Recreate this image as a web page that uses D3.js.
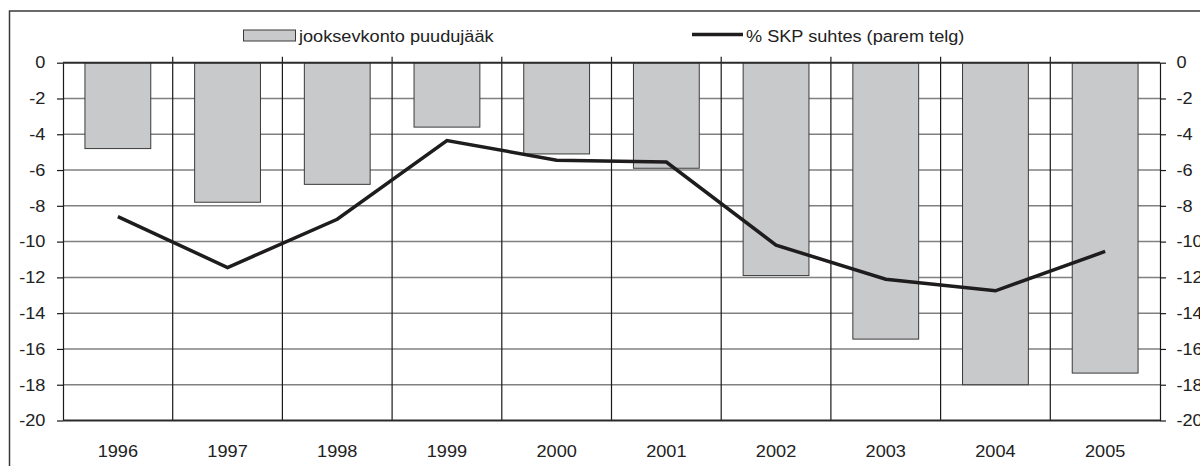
<!DOCTYPE html>
<html>
<head>
<meta charset="utf-8">
<script src="https://cdn.jsdelivr.net/npm/d3@7"></script>
<style>
  body { margin: 0; background: #fff; }
  svg { display: block; font-family: "Liberation Sans", Arial, sans-serif; }
  .lbl { font-size: 16.5px; fill: #222; }
</style>
</head>
<body>
<svg id="chart" width="1200" height="466"></svg>
<script>
const years = ["1996", "1997", "1998", "1999", "2000", "2001", "2002", "2003", "2004", "2005"];
// current account deficit (left axis)
const deficit = [-4.8, -7.8, -6.8, -3.6, -5.1, -5.9, -11.9, -15.45, -18.0, -17.35];
// % of GDP (right axis)
const gdpShare = [-8.6, -11.45, -8.75, -4.35, -5.45, -5.55, -10.2, -12.1, -12.75, -10.55];
const yTicks = [0, -2, -4, -6, -8, -10, -12, -14, -16, -18, -20];
const legendLabels = ["jooksevkonto puudujääk", "% SKP suhtes (parem telg)"];

const rows = years.map((y, i) => ({ year: y, deficit: deficit[i], share: gdpShare[i] }));

const svg = d3.select('#chart');
const plotLeft = 63, plotRight = 1160, plotTop = 62.7, plotBottom = 420.5;
const sx = 'scale(1.1,1)'; // text in the picture is a little wide
const fmt = d => String(d); // plain hyphen minus, like the original

// scales
const x = d3.scaleBand().domain(years).range([plotLeft, plotRight]).padding(0);
const xBar = d3.scaleBand().domain(years).range([plotLeft, plotRight]).paddingInner(0.4).paddingOuter(0.2);
const yL = d3.scaleLinear().domain([-20, 0]).range([plotBottom, plotTop]);
const yR = d3.scaleLinear().domain([-20, 0]).range([plotBottom, plotTop]);

// outer frame
svg.append('rect')
  .attr('x', 9.5).attr('y', 11)
  .attr('width', 1300).attr('height', 600)
  .attr('fill', 'none')
  .attr('stroke', '#3a3a3a')
  .attr('stroke-width', 1.5);

// horizontal gridlines
svg.append('g')
  .selectAll('line')
  .data(yTicks.filter(t => t !== 0 && t !== -20))
  .join('line')
  .attr('x1', plotLeft).attr('x2', plotRight)
  .attr('y1', d => yL(d)).attr('y2', d => yL(d))
  .attr('stroke', '#808080')
  .attr('stroke-width', 1.5);

// category separators (ticks of the category axis go up from 0)
const bounds = years.slice(1).map(y => x(y));
svg.append('g')
  .selectAll('line')
  .data(bounds)
  .join('line')
  .attr('x1', d => d).attr('x2', d => d)
  .attr('y1', plotTop - 6).attr('y2', plotBottom)
  .attr('stroke', '#1a1a1a')
  .attr('stroke-width', 1.2);

// left axis
const gL = svg.append('g')
  .attr('transform', `translate(${plotLeft},0)`)
  .call(d3.axisLeft(yL).tickValues(yTicks).tickFormat(fmt).tickSize(6).tickPadding(10).tickSizeOuter(0));
gL.select('.domain').attr('stroke', '#1a1a1a').attr('stroke-width', 1.2);
gL.selectAll('.tick line').attr('stroke', '#1a1a1a').attr('stroke-width', 1.2);
gL.selectAll('.tick text')
  .attr('class', 'lbl')
  .attr('transform', sx);

// right axis
const gR = svg.append('g')
  .attr('transform', `translate(${plotRight},0)`)
  .call(d3.axisRight(yR).tickValues(yTicks).tickFormat(fmt).tickSize(6).tickPadding(9).tickSizeOuter(0));
gR.select('.domain').attr('stroke', '#1a1a1a').attr('stroke-width', 1.2);
gR.selectAll('.tick line').attr('stroke', '#1a1a1a').attr('stroke-width', 1.2);
gR.selectAll('.tick text')
  .attr('class', 'lbl')
  .attr('transform', sx);
svg.selectAll('g[font-size]').attr('font-size', null).attr('font-family', null);
svg.selectAll('.tick text').attr('fill', '#222');

// bars
svg.append('g')
  .selectAll('rect')
  .data(rows)
  .join('rect')
  .attr('x', d => xBar(d.year))
  .attr('y', yL(0))
  .attr('width', xBar.bandwidth())
  .attr('height', d => yL(d.deficit) - yL(0))
  .attr('fill', '#c8c9cb')
  .attr('stroke', '#3a3a3a')
  .attr('stroke-width', 1);

// top and bottom axis lines
[0, -20].forEach(v => {
  svg.append('line')
    .attr('x1', plotLeft).attr('x2', plotRight)
    .attr('y1', yL(v)).attr('y2', yL(v))
    .attr('stroke', '#2a2a2a')
    .attr('stroke-width', 2);
});

// year labels
svg.append('g')
  .selectAll('text')
  .data(years)
  .join('text')
  .attr('class', 'lbl')
  .attr('text-anchor', 'middle')
  .attr('transform', d => `translate(${x(d) + x.bandwidth() / 2},457) ${sx}`)
  .text(d => d);

// line
const line = d3.line()
  .x(d => x(d.year) + x.bandwidth() / 2)
  .y(d => yR(d.share));

svg.append('path')
  .datum(rows)
  .attr('d', line)
  .attr('fill', 'none')
  .attr('stroke', '#1e1c1d')
  .attr('stroke-width', 3.5)
  .attr('stroke-linejoin', 'miter');

// legend
const lg = svg.append('g');
lg.append('rect')
  .attr('x', 243.5).attr('y', 30)
  .attr('width', 52).attr('height', 11)
  .attr('fill', '#c8c9cb')
  .attr('stroke', '#3a3a3a')
  .attr('stroke-width', 1);
lg.append('text')
  .attr('class', 'lbl')
  .attr('transform', `translate(299,41.5) ${sx}`)
  .text(legendLabels[0]);
lg.append('line')
  .attr('x1', 692).attr('x2', 743)
  .attr('y1', 34.5).attr('y2', 34.5)
  .attr('stroke', '#1e1c1d')
  .attr('stroke-width', 3.5);
lg.append('text')
  .attr('class', 'lbl')
  .attr('transform', `translate(746,41.5) ${sx}`)
  .text(legendLabels[1]);
</script>
</body>
</html>
